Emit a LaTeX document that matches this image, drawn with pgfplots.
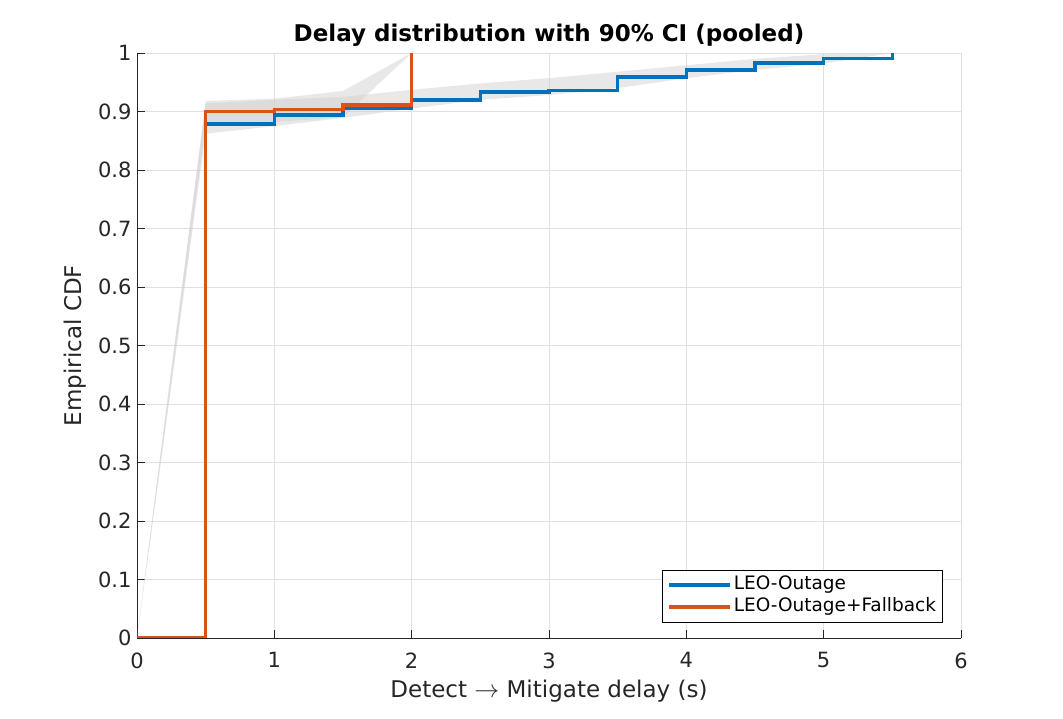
\documentclass[border=0pt]{standalone}
\usepackage{fontspec}
\setmainfont{DejaVu Sans}
\usepackage{pgfplots}
\pgfplotsset{compat=1.18}
\definecolor{mblue}{HTML}{0072BD}
\definecolor{morange}{HTML}{D95319}
\definecolor{axgray}{HTML}{262626}
\definecolor{gridgray}{HTML}{E0E0E0}
\begin{document}
\begin{tikzpicture}
\useasboundingbox (-137pt,-81pt) rectangle (926pt,638pt);
\begin{axis}[
  at={(0pt,0pt)}, anchor=south west, scale only axis,
  width=824pt, height=585pt,
  xmin=0, xmax=6, ymin=0, ymax=1,
  xtick={0,1,2,3,4,5,6},
  ytick={0,0.1,0.2,0.3,0.4,0.5,0.6,0.7,0.8,0.9,1},
  yticklabels={0,0.1,0.2,0.3,0.4,0.5,0.6,0.7,0.8,0.9,1},
  axis x line*=bottom, axis y line*=left,
  axis line style={axgray, line width=0.8pt, -},
  tick align=inside, major tick length=8pt,
  tick style={axgray, line width=0.8pt},
  grid=major, grid style={gridgray, line width=0.7pt},
  /pgf/number format/assume math mode=true,
  tick label style={font=\fontsize{21}{24}\selectfont, text=axgray},
  xticklabel style={yshift=-11pt},
  yticklabel style={xshift=-2pt},
  every axis x label/.style={at={(rel axis cs:0.5,0)}, anchor=center, yshift=-53pt},
  every axis y label/.style={at={(rel axis cs:0,0.5)}, anchor=center, xshift=-62pt, rotate=90},
  every axis title/.style={at={(rel axis cs:0.5,1)}, anchor=center, yshift=18pt},
  label style={font=\fontsize{23}{26}\selectfont, text=axgray},
  title style={font=\fontsize{23}{26}\selectfont\bfseries, text=black},
  xlabel={Detect $\rightarrow$ Mitigate delay (s)},
  ylabel={Empirical CDF},
  title={Delay distribution with 90\% CI (pooled)},
  legend style={at={(rel axis cs:0.978,0.027)}, anchor=south east,
    draw=black, line width=0.6pt, fill=white,
    font=\fontsize{18.5}{21}\selectfont, text=black,
    inner xsep=4.5pt, inner ysep=4pt,
    nodes={inner sep=2pt, text height=14pt, text depth=4pt}, row sep=0pt},
  legend cell align=left,
  legend image code/.code={\draw[#1] (0pt,0pt) -- (61pt,0pt);},
]
% CI bands
\addplot[forget plot, draw=none, fill=black!18, fill opacity=0.5] coordinates {
 (0,0) (0.5,0.914) (1,0.920) (1.5,0.925) (2,0.937) (2.5,0.948) (3,0.957)
 (3.5,0.968) (4,0.979) (4.5,0.990) (5,0.998) (5.5,1.0)
 (5.5,1.0) (5,0.982) (4.5,0.971) (4,0.957) (3.5,0.940) (3,0.928)
 (2.5,0.920) (2,0.905) (1.5,0.889) (1,0.875) (0.5,0.862) (0,0)} -- cycle;
\addplot[forget plot, draw=none, fill=black!18, fill opacity=0.5] coordinates {
 (0,0) (0.5,0.918) (1,0.922) (1.5,0.935) (2,1.0)
 (2,1.0) (1.5,0.890) (1,0.882) (0.5,0.876) (0,0)} -- cycle;
% ECDF lines
\addplot[const plot, mblue, line width=3.5pt] coordinates {
 (0,0) (0.5,0.879) (1,0.894) (1.5,0.906) (2,0.920) (2.5,0.933) (3,0.936)
 (3.5,0.959) (4,0.971) (4.5,0.983) (5,0.991) (5.5,1.0)};
\addlegendentry{LEO-Outage}
\addplot[const plot, morange, line width=3.5pt] coordinates {
 (0,0) (0.5,0.900) (1,0.903) (1.5,0.911) (2,1.0)};
\addlegendentry{LEO-Outage+Fallback}
\end{axis}
\end{tikzpicture}
\end{document}
